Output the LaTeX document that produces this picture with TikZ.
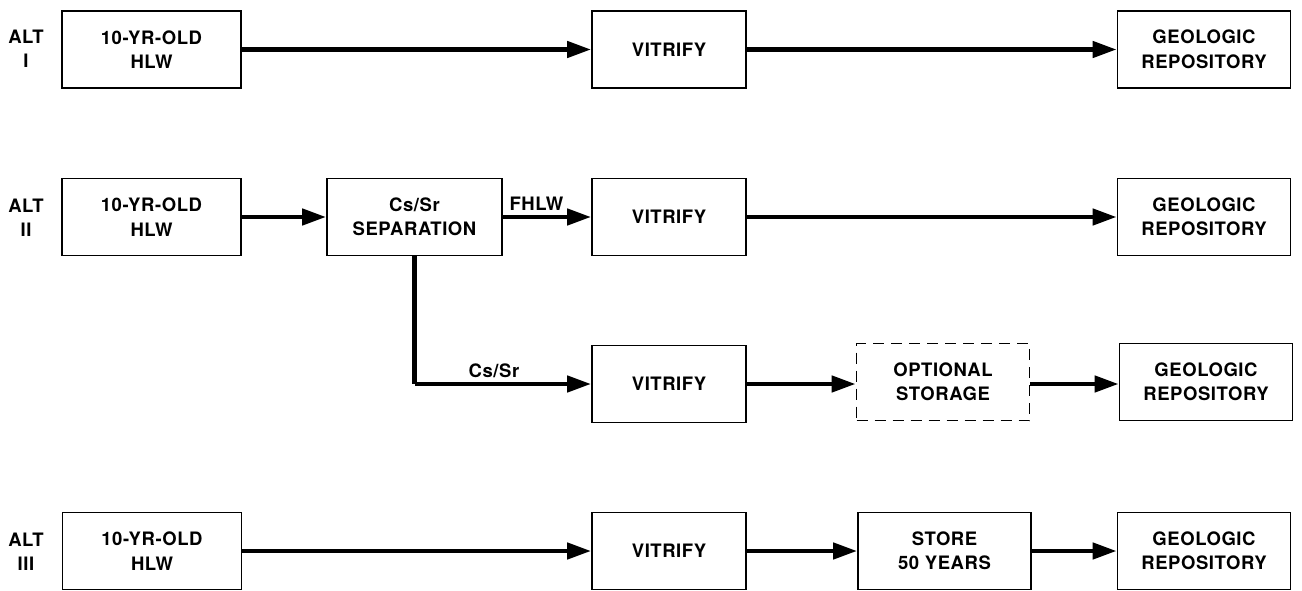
\documentclass[tikz,border=0pt]{standalone}
\usepackage{fontspec}
\setmainfont{TeX Gyre Heros}[LetterSpace=3]
\usetikzlibrary{arrows.meta}
\begin{document}
\begin{tikzpicture}[x=1pt,y=-1pt,
  txt/.style={font=\fontsize{18.5}{24.5}\selectfont\bfseries, align=center},
  blk/.style={txt, draw, line width=1.8pt, minimum height=77pt, inner sep=0pt},
  wa/.style={blk, minimum width=179pt},
  wv/.style={blk, minimum width=154pt},
  wg/.style={blk, minimum width=173pt},
  ws/.style={blk, minimum width=175pt},
  optbox/.style={wg, dash pattern=on 11pt off 7pt},
  arr/.style={line width=4.5pt, -{Triangle[length=24pt,width=16pt]}},
  lbl/.style={txt},
  altlbl/.style={txt, inner sep=0pt}]
\useasboundingbox (0,0) rectangle (1302,591);
% Row 1
\node[altlbl] (l1) at (26,49) {ALT\\I};
\node[wa] (a1) at (151.5,49.5) {10-YR-OLD\\HLW};
\node[wv] (v1) at (669,49.5) {VITRIFY};
\node[wg] (g1) at (1204,49.5) {GEOLOGIC\\REPOSITORY};
\draw[arr] (a1.east) -- (v1.west);
\draw[arr] (v1.east) -- (g1.west);
% Row 2
\node[altlbl] (l2) at (26,218) {ALT\\II};
\node[wa] (a2) at (151.5,217) {10-YR-OLD\\HLW};
\node[ws] (s2) at (414.5,217) {Cs/Sr\\SEPARATION};
\node[wv] (v2) at (669,217) {VITRIFY};
\node[wg] (g2) at (1204,217) {GEOLOGIC\\REPOSITORY};
\draw[arr] (a2.east) -- (s2.west);
\draw[arr] (s2.east) -- node[lbl, above, pos=0.38, yshift=1pt] (fh) {FHLW} (v2.west);
\draw[arr] (v2.east) -- (g2.west);
% Row 3
\node[wv] (v3) at (669,384) {VITRIFY};
\node[optbox] (o3) at (943,382) {OPTIONAL\\STORAGE};
\node[wg] (g3) at (1206,382) {GEOLOGIC\\REPOSITORY};
\draw[line width=4.5pt, rounded corners=2pt] (s2.south) -- (s2.south |- v3.west) coordinate (c3);
\draw[arr] (c3) -- node[lbl, above, pos=0.45, yshift=1pt] (cs) {Cs/Sr} (v3.west);
\draw[arr] (v3.east) -- (v3.east -| o3.west);
\draw[arr] (o3.east |- v3.east) -- (v3.east -| g3.west);
% Row 4
\node[altlbl] (l4) at (26,552) {ALT\\III};
\node[wa] (a4) at (152,551) {10-YR-OLD\\HLW};
\node[wv] (v4) at (669,551) {VITRIFY};
\node[wg] (s4) at (944.5,551) {STORE\\50 YEARS};
\node[wg] (g4) at (1204,551) {GEOLOGIC\\REPOSITORY};
\draw[arr] (a4.east) -- (v4.west);
\draw[arr] (v4.east) -- (s4.west);
\draw[arr] (s4.east) -- (g4.west);
\end{tikzpicture}
\end{document}
